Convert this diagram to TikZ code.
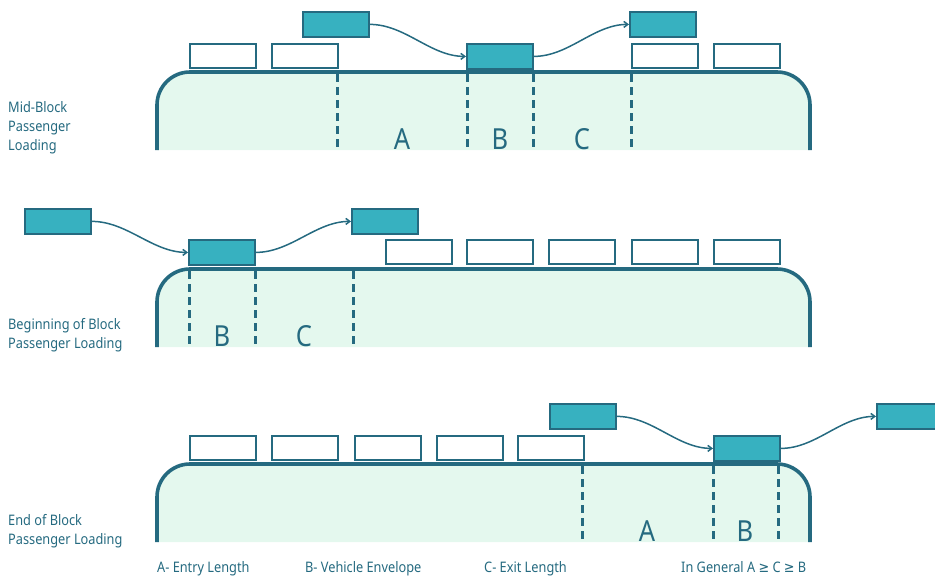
\documentclass[tikz,border=0pt]{standalone}
\usepackage{fontspec}
\setmainfont{Noto Sans}[FakeStretch=0.88]
\newfontfamily\symfont{DejaVu Sans}[FakeStretch=0.88]
\usetikzlibrary{arrows.meta}
\definecolor{ink}{HTML}{256A80}
\definecolor{teal}{HTML}{37B1C0}
\definecolor{road}{HTML}{E4F8EE}
\tikzset{
  curb/.style={draw=ink, line width=3.6pt, fill=road, rounded corners=33pt},
  divider/.style={draw=ink, line width=3pt, dash pattern=on 8pt off 5pt},
  parked/.style={draw=ink, line width=1.8pt, fill=white, minimum width=66pt, minimum height=24pt, inner sep=0pt, anchor=north west},
  moving/.style={draw=ink, line width=1.8pt, fill=teal, minimum width=66pt, minimum height=25pt, inner sep=0pt, anchor=north west},
  flow/.style={draw=ink, line width=1.5pt, -{Straight Barb[length=4pt,width=6pt]}, out=0, in=180, looseness=0.9},
  zone/.style={text=ink, font=\fontsize{29}{29}\selectfont, anchor=base},
  side/.style={text=ink, font=\fontsize{14.5}{19}\selectfont, align=left, anchor=south west, inner sep=0pt},
  legend/.style={text=ink, font=\fontsize{14.5}{16}\selectfont, anchor=base west, inner sep=0pt}
}
\begin{document}
\begin{tikzpicture}[x=1pt,y=-1pt]
\useasboundingbox (0,0) rectangle (935,576);
\clip (0,0) rectangle (935,576);

% ---------- Panel 1 ----------
\path[curb] (157,150) -- (157,72) -- (810,72) -- (810,150);
\draw[divider] (337,74) -- (337,150);
\draw[divider] (467,74) -- (467,150);
\draw[divider] (533,74) -- (533,150);
\draw[divider] (631,74) -- (631,150);
\node[zone] (a1) at (402,149) {A};
\node[zone] (b1) at (500,149) {B};
\node[zone] (c1) at (582,149) {C};
\node[parked] (p11) at (189,43) {};
\node[parked] (p12) at (271,43) {};
\node[parked] (p13) at (631,43) {};
\node[parked] (p14) at (713,43) {};
\node[moving] (m11) at (302,11) {};
\node[moving] (m12) at (466,43) {};
\node[moving] (m13) at (629,11) {};
\draw[flow] (m11.east) to (m12.west);
\draw[flow] (m12.east) to (m13.west);
\node[side] (l1) at (8,154) {Mid-Block\\Passenger\\Loading};

% ---------- Panel 2 ----------
\path[curb] (157,347) -- (157,269) -- (810,269) -- (810,347);
\draw[divider] (189,271) -- (189,347);
\draw[divider] (255,271) -- (255,347);
\draw[divider] (353,271) -- (353,347);
\node[zone] (b2) at (222,346) {B};
\node[zone] (c2) at (304,346) {C};
\node[parked] (p21) at (385,239) {};
\node[parked] (p22) at (466,239) {};
\node[parked] (p23) at (548,239) {};
\node[parked] (p24) at (631,239) {};
\node[parked] (p25) at (713,239) {};
\node[moving] (m21) at (24,208) {};
\node[moving] (m22) at (188,239) {};
\node[moving] (m23) at (351,208) {};
\draw[flow] (m21.east) to (m22.west);
\draw[flow] (m22.east) to (m23.west);
\node[side] (l2) at (8,352) {Beginning of Block\\Passenger Loading};

% ---------- Panel 3 ----------
\path[curb] (157,542) -- (157,464) -- (810,464) -- (810,542);
\draw[divider] (582,466) -- (582,542);
\draw[divider] (713,466) -- (713,542);
\draw[divider] (778,466) -- (778,542);
\node[zone] (a3) at (647,541) {A};
\node[zone] (b3) at (745,541) {B};
\node[parked] (p31) at (189,435) {};
\node[parked] (p32) at (271,435) {};
\node[parked] (p33) at (354,435) {};
\node[parked] (p34) at (436,435) {};
\node[parked] (p35) at (517,435) {};
\node[moving] (m31) at (549,403) {};
\node[moving] (m32) at (713,435) {};
\node[moving] (m33) at (876,403) {};
\draw[flow] (m31.east) to (m32.west);
\draw[flow] (m32.east) to (m33.west);
\node[side] (l3) at (8,548) {End of Block\\Passenger Loading};

% ---------- Legend ----------
\node[legend] (g1) at (157,572) {A- Entry Length};
\node[legend] (g2) at (305,572) {B- Vehicle Envelope};
\node[legend] (g3) at (484,572) {C- Exit Length};
\node[legend] (g4) at (681,572) {In General A {\symfont ≥} C {\symfont ≥} B};
\end{tikzpicture}
\end{document}
